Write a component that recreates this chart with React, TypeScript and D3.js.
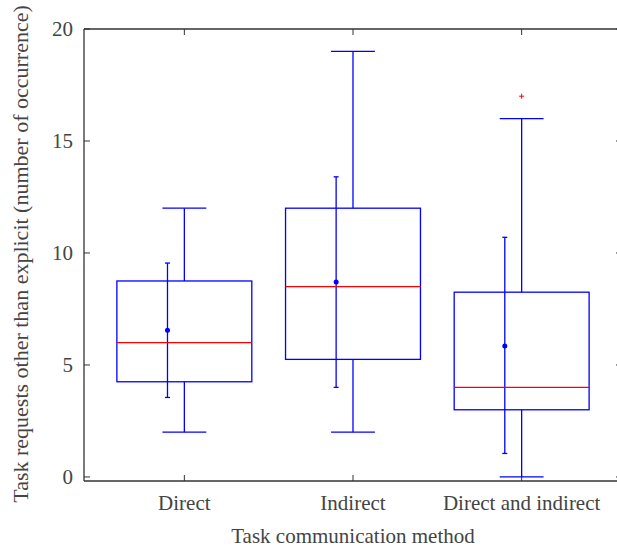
import { useEffect, useRef } from "react";
import * as d3 from "d3";

const categories = ["Direct", "Indirect", "Direct and indirect"];
const q1 = [4.25, 5.25, 3];
const medians = [6, 8.5, 4];
const q3 = [8.75, 12, 8.25];
const whiskerLow = [2, 2, 0];
const whiskerHigh = [12, 19, 16];
const means = [6.55, 8.7, 5.85];
const meanLow = [3.55, 4.0, 1.05];
const meanHigh = [9.55, 13.4, 10.7];
const outliers = [[], [], [17]];
const yTicks = [0, 5, 10, 15, 20];

const App = () => {
  const svgRef = useRef(null);

  useEffect(() => {
    const width = 617;
    const height = 549;
    const margin = { top: 29, right: -5, bottom: 68, left: 84 };
    const font = "'Liberation Serif', serif";
    const fontSize = 21;
    const textColor = "#444";
    const axisColor = "#333";

    const svg = d3.select(svgRef.current);
    svg.selectAll("*").remove();
    svg.attr("width", width).attr("height", height);

    const x = d3
      .scaleLinear()
      .domain([0.405, 3.595])
      .range([margin.left, width - margin.right]);
    const y = d3
      .scaleLinear()
      .domain([-0.18, 20])
      .range([height - margin.bottom, margin.top]);

    const y0 = y(-0.18);
    const yTop = y(20);
    const xL = x(0.405);
    const xR = x(3.595);

    // frame
    const frame = svg.append("g").attr("stroke", axisColor).attr("stroke-width", 1.3);
    frame.append("line").attr("x1", xL).attr("x2", xR).attr("y1", y0).attr("y2", y0);
    frame.append("line").attr("x1", xL).attr("x2", xR).attr("y1", yTop).attr("y2", yTop);
    frame.append("line").attr("x1", xL).attr("x2", xL).attr("y1", y0).attr("y2", yTop);
    frame.append("line").attr("x1", xR).attr("x2", xR).attr("y1", y0).attr("y2", yTop);

    // y ticks
    yTicks.forEach((t) => {
      frame.append("line").attr("x1", xL).attr("x2", xL + 6).attr("y1", y(t)).attr("y2", y(t)).attr("stroke-width", 1);
      frame.append("line").attr("x1", xR).attr("x2", xR - 6).attr("y1", y(t)).attr("y2", y(t)).attr("stroke-width", 1);
      svg
        .append("text")
        .attr("x", xL - 11)
        .attr("y", y(t))
        .attr("dy", "0.35em")
        .attr("text-anchor", "end")
        .attr("font-family", font)
        .attr("font-size", fontSize)
        .attr("fill", textColor)
        .text(t);
    });

    // x ticks
    categories.forEach((c, i) => {
      const cx = x(i + 1);
      frame.append("line").attr("x1", cx).attr("x2", cx).attr("y1", y0).attr("y2", y0 - 6).attr("stroke-width", 1);
      frame.append("line").attr("x1", cx).attr("x2", cx).attr("y1", yTop).attr("y2", yTop + 6).attr("stroke-width", 1);
      svg
        .append("text")
        .attr("x", cx)
        .attr("y", y0 + 29)
        .attr("text-anchor", "middle")
        .attr("font-family", font)
        .attr("font-size", fontSize)
        .attr("fill", textColor)
        .text(c);
    });

    // boxes
    const bw = 0.4;
    const cap = 0.13;
    const g = svg.append("g").attr("fill", "none").attr("stroke", "#0000ff").attr("stroke-width", 1.3);
    categories.forEach((c, i) => {
      const p = i + 1;
      const cx = x(p);
      g.append("rect")
        .attr("x", x(p - bw))
        .attr("y", y(q3[i]))
        .attr("width", x(p + bw) - x(p - bw))
        .attr("height", y(q1[i]) - y(q3[i]));
      g.append("line").attr("x1", cx).attr("x2", cx).attr("y1", y(q3[i])).attr("y2", y(whiskerHigh[i]));
      g.append("line").attr("x1", cx).attr("x2", cx).attr("y1", y(q1[i])).attr("y2", y(whiskerLow[i]));
      g.append("line").attr("x1", x(p - cap)).attr("x2", x(p + cap)).attr("y1", y(whiskerHigh[i])).attr("y2", y(whiskerHigh[i]));
      g.append("line").attr("x1", x(p - cap)).attr("x2", x(p + cap)).attr("y1", y(whiskerLow[i])).attr("y2", y(whiskerLow[i]));
      svg
        .append("line")
        .attr("x1", x(p - bw))
        .attr("x2", x(p + bw))
        .attr("y1", y(medians[i]))
        .attr("y2", y(medians[i]))
        .attr("stroke", "#ff0000")
        .attr("stroke-width", 1.2);

      // mean with error bar
      const mx = x(p - 0.1);
      g.append("line").attr("x1", mx).attr("x2", mx).attr("y1", y(meanLow[i])).attr("y2", y(meanHigh[i]));
      g.append("line").attr("x1", mx - 2.5).attr("x2", mx + 2.5).attr("y1", y(meanLow[i])).attr("y2", y(meanLow[i]));
      g.append("line").attr("x1", mx - 2.5).attr("x2", mx + 2.5).attr("y1", y(meanHigh[i])).attr("y2", y(meanHigh[i]));
      svg.append("circle").attr("cx", mx).attr("cy", y(means[i])).attr("r", 2.5).attr("fill", "#0000ff");

      outliers[i].forEach((o) => {
        const oy = y(o);
        svg.append("path")
          .attr("d", `M${cx - 2.5},${oy}H${cx + 2.5}M${cx},${oy - 2.5}V${oy + 2.5}`)
          .attr("stroke", "#ff0000")
          .attr("stroke-width", 1);
      });
    });

    // axis titles
    svg
      .append("text")
      .attr("x", x(2))
      .attr("y", 543)
      .attr("text-anchor", "middle")
      .attr("font-family", font)
      .attr("font-size", fontSize)
      .attr("fill", textColor)
      .text("Task communication method");
    svg
      .append("text")
      .attr("transform", `translate(28,254) rotate(-90)`)
      .attr("text-anchor", "middle")
      .attr("font-family", font)
      .attr("font-size", 22)
      .attr("fill", textColor)
      .text("Task requests other than explicit (number of occurrence)");
  }, []);

  return <svg ref={svgRef} style={{ position: "absolute", left: 0, top: 0 }}></svg>;
};

export default App;
